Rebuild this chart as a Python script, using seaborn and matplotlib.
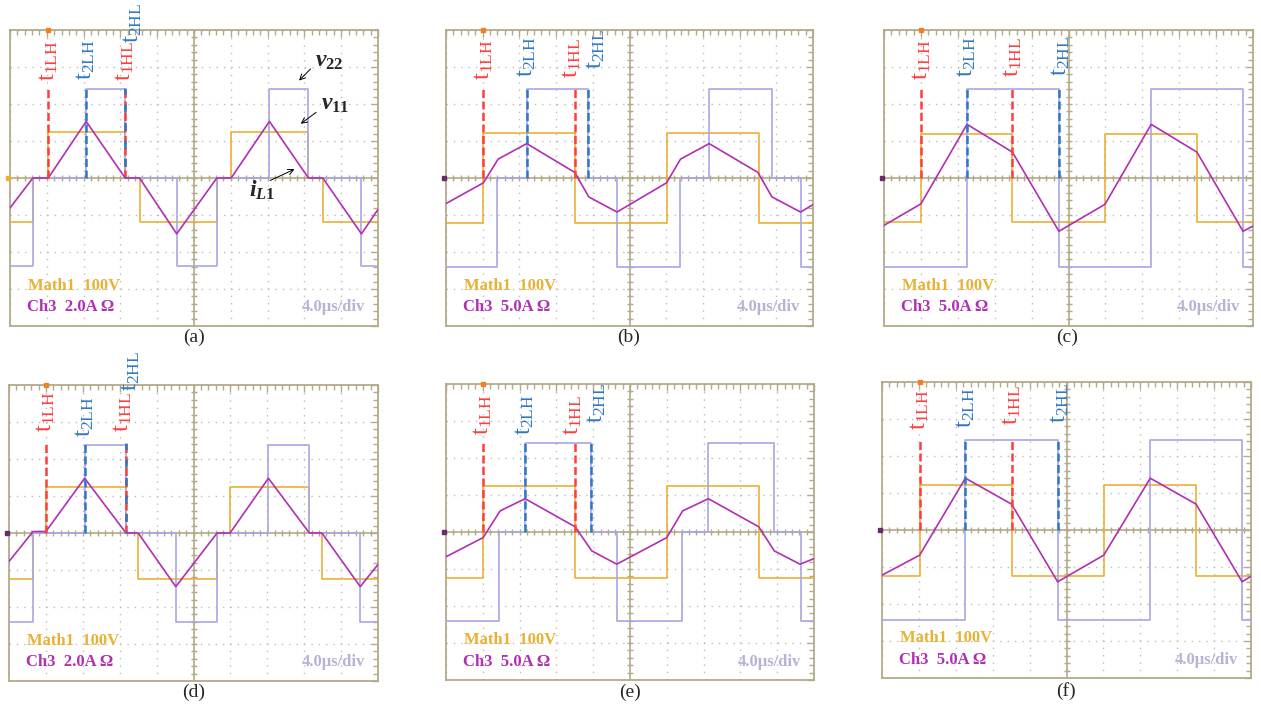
import numpy as np
import matplotlib
matplotlib.use("Agg")
import matplotlib.pyplot as plt
from matplotlib.ticker import MultipleLocator
import seaborn as sns

# --- datos (unidades: divisiones de la pantalla del osciloscopio) ---
# v11 (Math1, amarillo): instantes de cambio y niveles (escalon)
a_v11_t = [0, 0.62, 1.04, 3.13, 3.52, 5.62, 6.01, 8.11, 8.5, 10]
a_v11_y = [-1.2, 0, 1.24, 0, -1.2, 0, 1.24, 0, -1.2, -1.2]
b_v11_t = [0, 1.02, 3.51, 6.01, 8.52, 10]
b_v11_y = [-1.21, 1.21, -1.21, 1.21, -1.21, -1.21]
c_v11_t = [0, 1.01, 3.48, 5.99, 8.48, 10]
c_v11_y = [-1.2, 1.2, -1.2, 1.2, -1.2, -1.2]
d_v11_t = [0, 0.65, 1.0, 3.17, 3.5, 5.64, 5.99, 8.14, 8.48, 10]
d_v11_y = [-1.24, 0, 1.24, 0, -1.24, 0, 1.24, 0, -1.24, -1.24]
e_v11_t = [0, 1.01, 3.51, 6.0, 8.5, 10]
e_v11_y = [-1.23, 1.23, -1.23, 1.23, -1.23, -1.23]
f_v11_t = [0, 1.02, 3.51, 6.01, 8.51, 10]
f_v11_y = [-1.24, 1.22, -1.24, 1.22, -1.24, -1.24]

# v22 (lavanda)
a_v22_t = [0, 0.62, 2.07, 3.13, 4.53, 5.62, 7.05, 8.11, 9.55, 10]
a_v22_y = [-2.38, 0, 2.41, 0, -2.38, 0, 2.41, 0, -2.38, -2.38]
b_v22_t = [0, 1.38, 2.2, 3.87, 4.65, 6.37, 7.17, 8.88, 9.66, 10]
b_v22_y = [-2.4, 0, 2.4, 0, -2.4, 0, 2.4, 0, -2.4, -2.4]
c_v22_t = [0, 2.25, 4.74, 7.24, 9.73, 10]
c_v22_y = [-2.41, 2.41, -2.41, 2.41, -2.41, -2.41]
d_v22_t = [0, 0.65, 2.05, 3.17, 4.52, 5.64, 7.03, 8.14, 9.52, 10]
d_v22_y = [-2.4, 0, 2.39, 0, -2.4, 0, 2.39, 0, -2.4, -2.4]
e_v22_t = [0, 1.45, 2.15, 3.93, 4.66, 6.42, 7.13, 8.91, 9.64, 10]
e_v22_y = [-2.4, 0, 2.4, 0, -2.4, 0, 2.4, 0, -2.4, -2.4]
f_v22_t = [0, 2.26, 4.76, 7.27, 9.76, 10]
f_v22_y = [-2.42, 2.42, -2.42, 2.42, -2.42, -2.42]

# iL1 (Ch3, morado): vertices
a_il_t = [0, 0.62, 1.04, 2.07, 3.13, 3.52, 4.53, 5.62, 6.01, 7.05, 8.11, 8.5, 9.55, 10]
a_il_y = [-0.81, 0, 0, 1.53, 0, 0, -1.51, 0, 0, 1.53, 0, 0, -1.51, -0.85]
b_il_t = [0, 1.02, 1.42, 2.2, 3.51, 3.89, 4.66, 6.01, 6.39, 7.17, 8.5, 8.88, 9.66, 10]
b_il_y = [-0.69, -0.13, 0.51, 0.93, 0.15, -0.51, -0.92, -0.13, 0.51, 0.93, 0.15, -0.51, -0.92, -0.72]
c_il_t = [0, 1.0, 2.25, 3.48, 4.74, 5.99, 7.24, 8.48, 9.73, 10]
c_il_y = [-1.28, -0.7, 1.45, 0.7, -1.44, -0.71, 1.45, 0.7, -1.44, -1.3]
d_il_t = [0, 0.65, 1.0, 2.05, 3.17, 3.5, 4.52, 5.64, 5.99, 7.03, 8.14, 8.48, 9.52, 10]
d_il_y = [-0.77, 0.04, 0.04, 1.48, 0, 0, -1.45, 0, 0, 1.48, 0, 0, -1.45, -0.85]
e_il_t = [0, 1.01, 1.47, 2.15, 3.51, 3.96, 4.64, 6.0, 6.43, 7.13, 8.5, 8.92, 9.62, 10]
e_il_y = [-0.67, -0.15, 0.57, 0.9, 0.14, -0.51, -0.87, -0.15, 0.57, 0.9, 0.14, -0.51, -0.87, -0.72]
f_il_t = [0, 1.02, 2.26, 3.51, 4.76, 6.01, 7.27, 8.51, 9.76, 10]
f_il_y = [-1.22, -0.68, 1.4, 0.7, -1.4, -0.68, 1.4, 0.7, -1.4, -1.25]

# instantes marcados: t1LH, t2LH, t1HL, t2HL
a_marks = [1.04, 2.07, 3.13, 3.13]
b_marks = [1.02, 2.2, 3.51, 3.87]
c_marks = [1.01, 2.25, 3.48, 4.74]
d_marks = [1.0, 2.05, 3.17, 3.17]
e_marks = [1.01, 2.15, 3.51, 3.93]
f_marks = [1.02, 2.26, 3.51, 4.76]

mark_names = ["1LH", "2LH", "1HL", "2HL"]
ch3_scale = ["2.0A", "5.0A", "5.0A", "2.0A", "5.0A", "5.0A"]
captions = ["(a)", "(b)", "(c)", "(d)", "(e)", "(f)"]

# --- estilo ---
sns.set_style("white")
plt.rcParams["font.family"] = ["Liberation Serif", "DejaVu Serif"]
plt.rcParams["mathtext.fontset"] = "custom"
plt.rcParams["mathtext.rm"] = "Liberation Serif"
plt.rcParams["mathtext.it"] = "Liberation Serif:italic"
plt.rcParams["mathtext.bf"] = "Liberation Serif:bold"
plt.rcParams["mathtext.bfit"] = "Liberation Serif:italic:bold"

YEL = "#e9b133"
PUR = "#b02fb2"
LAV = "#a9a6e6"
RED = "#ff3d3d"
BLU = "#2f78c4"
TAN = "#b3aa88"
DOT = "#bdbdbd"

W, H = 1261, 714
# cajas de cada pantalla en pixeles: x0, y0, x1, y1
boxes = [(10, 30, 378, 326), (446, 30, 813, 326), (884, 30, 1253, 326),
         (9, 385, 378, 681), (446, 384, 814, 680), (882, 382, 1251, 678)]
cap_pos = [(194, 337), (629, 337), (1067, 337), (194, 692), (630, 692), (1066, 691)]
# altura de la base de las etiquetas t (en divisiones)
label_y = [[2.62, 2.65, 2.62, 3.65], [2.65, 2.72, 2.7, 2.95], [2.65, 2.74, 2.74, 2.75],
           [2.72, 2.6, 2.72, 3.85], [2.62, 2.62, 2.62, 2.95], [2.7, 2.75, 2.85, 2.9]]
label_dx = [[0, 0, 0, 0.2], [0, 0, -0.08, 0.22], [0, 0, 0, 0.05],
            [0, 0, -0.1, 0.12], [0, 0, -0.08, 0.17], [0, 0, 0, 0.05]]

panels = [
    (a_v11_t, a_v11_y, a_v22_t, a_v22_y, a_il_t, a_il_y, a_marks),
    (b_v11_t, b_v11_y, b_v22_t, b_v22_y, b_il_t, b_il_y, b_marks),
    (c_v11_t, c_v11_y, c_v22_t, c_v22_y, c_il_t, c_il_y, c_marks),
    (d_v11_t, d_v11_y, d_v22_t, d_v22_y, d_il_t, d_il_y, d_marks),
    (e_v11_t, e_v11_y, e_v22_t, e_v22_y, e_il_t, e_il_y, e_marks),
    (f_v11_t, f_v11_y, f_v22_t, f_v22_y, f_il_t, f_il_y, f_marks),
]

fig = plt.figure(figsize=(W / 100, H / 100), dpi=100)
fig.patch.set_facecolor("white")

ticks_x = np.arange(0.2, 10, 0.2)
ticks_y = np.arange(-3.8, 4, 0.2)

for k, (v11_t, v11_y, v22_t, v22_y, il_t, il_y, marks) in enumerate(panels):
    x0, y0, x1, y1 = boxes[k]
    ax = fig.add_axes([x0 / W, 1 - y1 / H, (x1 - x0) / W, (y1 - y0) / H])
    ax.set_xlim(0, 10)
    ax.set_ylim(-4, 4)

    # reticula del osciloscopio
    ax.xaxis.set_major_locator(MultipleLocator(1))
    ax.yaxis.set_major_locator(MultipleLocator(1))
    ax.xaxis.set_minor_locator(MultipleLocator(0.2))
    ax.yaxis.set_minor_locator(MultipleLocator(0.2))
    ax.tick_params(which="both", direction="in", top=True, right=True, color=TAN,
                   labelbottom=False, labelleft=False, width=1.0)
    ax.tick_params(which="major", length=5)
    ax.tick_params(which="minor", length=3.5)
    ax.grid(which="major", color=DOT, linestyle=(0, (1, 4.3)), lw=1.0)
    for s in ax.spines.values():
        s.set_color(TAN)
        s.set_linewidth(1.3)
    ax.axhline(0, color=TAN, lw=1.2, zorder=1)
    ax.axvline(5, color=TAN, lw=1.2, zorder=1)
    ax.plot(ticks_x, np.zeros_like(ticks_x), ls="none", marker="|", ms=5, mew=1.0, color=TAN, zorder=1)
    ax.plot(np.full_like(ticks_y, 5), ticks_y, ls="none", marker="_", ms=5, mew=1.0, color=TAN, zorder=1)

    # trazas
    sns.lineplot(x=v11_t, y=v11_y, ax=ax, color=YEL, lw=1.2, drawstyle="steps-post",
                 estimator=None, sort=False, zorder=3)
    sns.lineplot(x=v22_t, y=v22_y, ax=ax, color=LAV, lw=1.2, drawstyle="steps-post",
                 estimator=None, sort=False, zorder=3)
    sns.lineplot(x=il_t, y=il_y, ax=ax, color=PUR, lw=1.2, estimator=None, sort=False, zorder=4)

    # marcadores de tiempo
    for j, t in enumerate(marks):
        col = RED if j in (0, 2) else BLU
        if j == 3 and marks[3] == marks[2]:
            ax.vlines(t, 0, 2.42, color=BLU, lw=1.8, linestyles=(2.5, (3.2, 4.0)), zorder=6)
        else:
            ax.vlines(t, 0, 2.45, color=col, lw=1.8, linestyles=(0, (3.2, 1.4)), zorder=5)
        ax.text(t + label_dx[k][j], label_y[k][j], r"$\mathrm{t}_{\mathrm{%s}}$" % mark_names[j],
                rotation=90, ha="center", va="bottom", color=col, fontsize=18,
                clip_on=False, zorder=7)

    ax.plot([marks[0]], [4], marker="s", ms=3, color="#f08020", clip_on=False, zorder=8)
    ax.plot([-0.05], [0], marker="s", ms=3, color=YEL if k == 0 else "#6a2a6a",
            clip_on=False, zorder=8)

    ax.text(0.5, -2.92, "Math1  100V", color=YEL, fontsize=12, fontweight="bold",
            ha="left", va="center")
    ax.text(0.45, -3.5, "Ch3  %s Ω" % ch3_scale[k], color=PUR, fontsize=12, fontweight="bold",
            ha="left", va="center")
    ax.text(9.65, -3.5, "4.0µs/div", color="#b5b3d6", fontsize=12, fontweight="bold",
            ha="right", va="center")

    if k == 0:
        ax.annotate("", xy=(7.8, 2.58), xytext=(8.22, 3.0),
                    arrowprops=dict(arrowstyle="->", color="k", lw=0.7))
        ax.text(8.3, 3.15, r"$\mathbfit{v}_{\mathbf{22}}$", fontsize=17, ha="left", va="center")
        ax.annotate("", xy=(7.84, 1.42), xytext=(8.38, 1.82),
                    arrowprops=dict(arrowstyle="->", color="k", lw=0.7))
        ax.text(8.45, 1.98, r"$\mathbfit{v}_{\mathbf{11}}$", fontsize=17, ha="left", va="center")
        ax.annotate("", xy=(7.8, 0.27), xytext=(7.0, -0.1),
                    arrowprops=dict(arrowstyle="->", color="k", lw=0.7))
        ax.text(6.5, -0.33, r"$\mathbfit{i}_{\mathbfit{L}\mathbf{1}}$", fontsize=17,
                ha="left", va="center")

    fig.text(cap_pos[k][0] / W, 1 - cap_pos[k][1] / H, captions[k], fontsize=14,
             ha="center", va="center")

fig.savefig("out.png", dpi=100, facecolor="white")
